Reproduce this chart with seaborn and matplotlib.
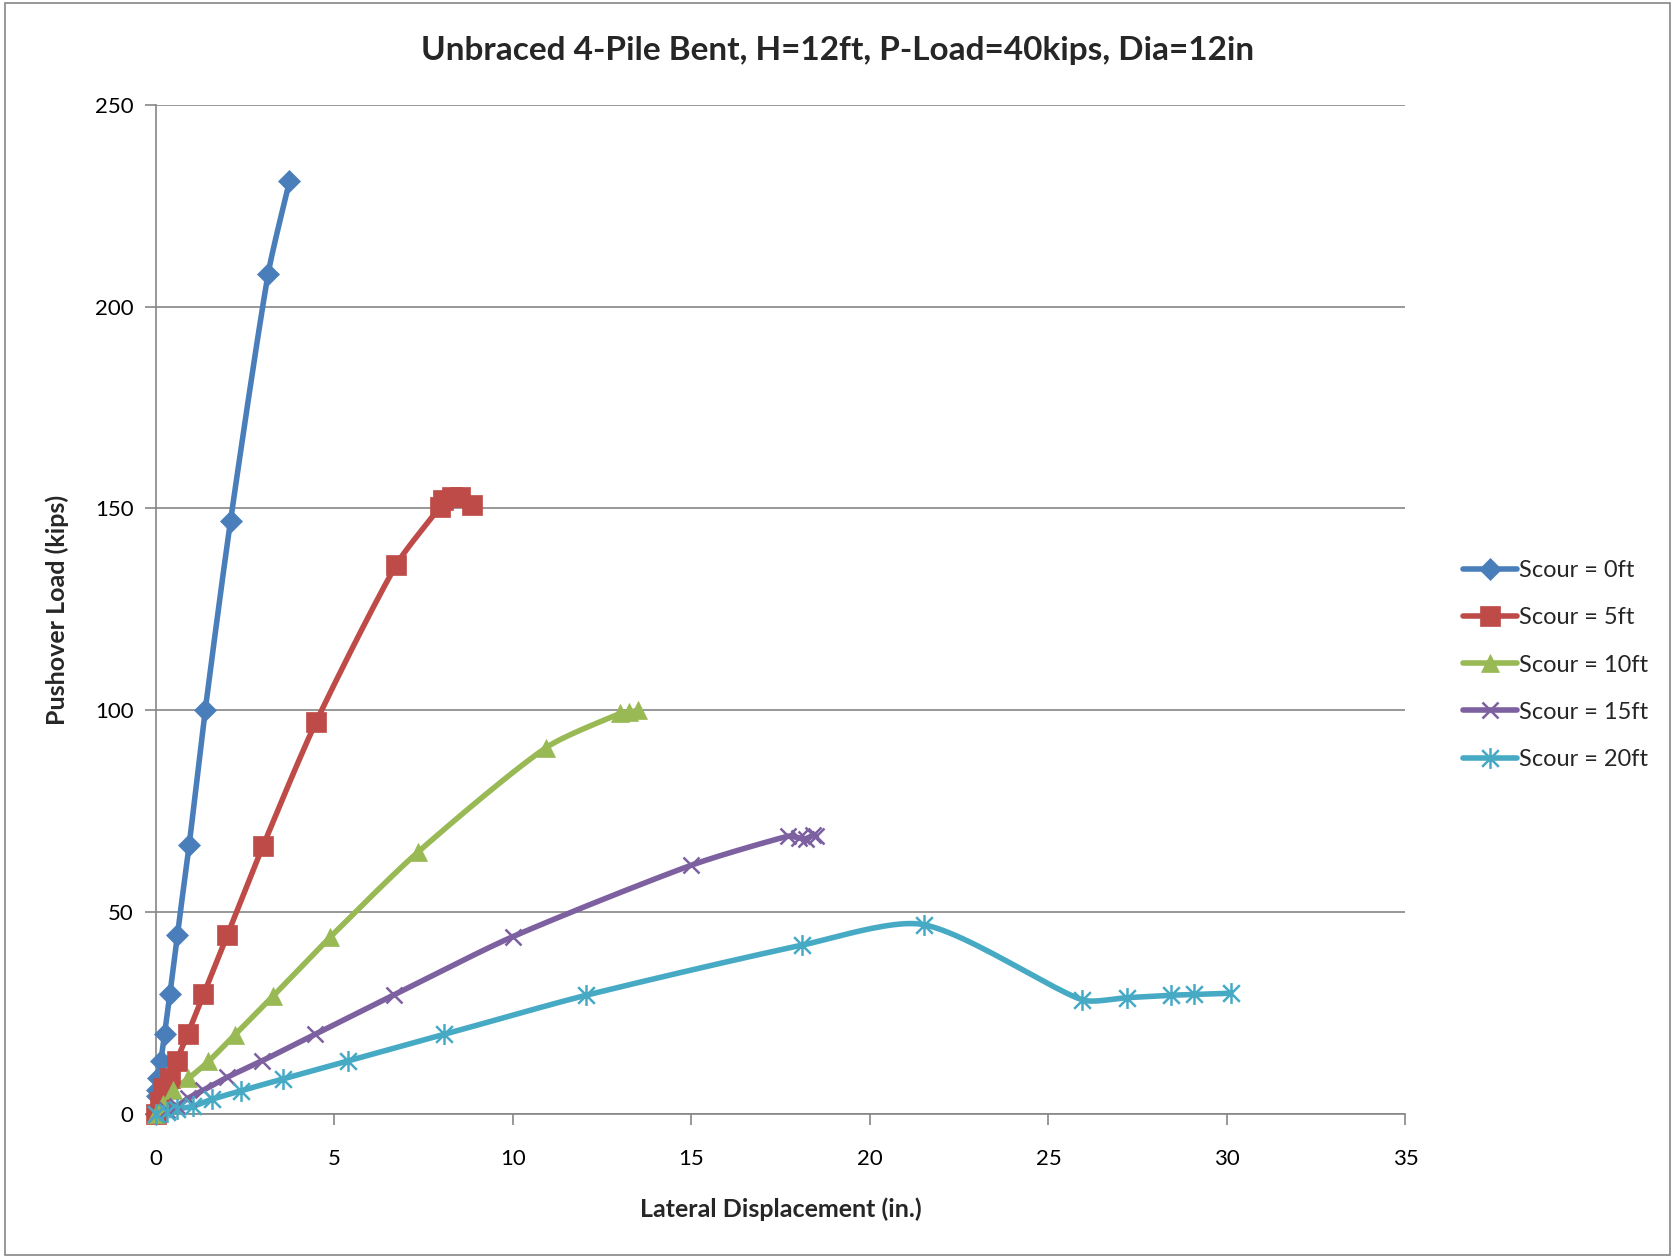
import numpy as np
import pandas as pd
import matplotlib
matplotlib.use('Agg')
import matplotlib.pyplot as plt
from matplotlib.lines import Line2D
from matplotlib.patches import Rectangle
from matplotlib.path import Path
import seaborn as sns

# data
scour_labels = ['Scour = 0ft', 'Scour = 5ft', 'Scour = 10ft', 'Scour = 15ft', 'Scour = 20ft']

disp_0 = [0, 0.02, 0.04, 0.06, 0.14, 0.24, 0.39, 0.60, 0.93, 1.38, 2.09, 3.14, 3.74]
load_0 = [0, 4.4, 6.0, 8.8, 13.2, 19.8, 29.6, 44.4, 66.6, 100, 147, 208, 231]

disp_5 = [0, 0.1, 0.2, 0.39, 0.58, 0.89, 1.33, 2.0, 3.0, 4.49, 6.73, 7.96, 8.05, 8.29, 8.52, 8.84]
load_5 = [0, 3, 6.4, 9, 13.2, 19.8, 29.6, 44.3, 66.4, 97.2, 136, 150.4, 152, 152.9, 152.9, 150.8]

disp_10 = [0, 0.2, 0.49, 0.91, 1.47, 2.21, 3.28, 4.88, 7.33, 10.92, 13.0, 13.25, 13.5]
load_10 = [0, 2.5, 5.9, 8.8, 13, 19.6, 29.2, 43.8, 64.8, 90.7, 99.2, 99.5, 100]

disp_15 = [0, 0.3, 0.6, 0.9, 1.33, 2.0, 2.96, 4.45, 6.67, 9.99, 14.99, 17.7, 18.0, 18.2, 18.4, 18.5]
load_15 = [0, 1, 2, 3.9, 5.9, 9.1, 13.1, 19.7, 29.5, 43.9, 61.6, 68.8, 68.4, 68.2, 69, 68.8]

disp_20 = [0, 0.3, 0.6, 1.04, 1.56, 2.37, 3.57, 5.37, 8.07, 12.05, 18.09, 21.5, 25.93, 27.19, 28.42, 29.08, 30.1]
load_20 = [0, 0.6, 1.2, 1.9, 3.6, 5.7, 8.7, 13.1, 19.7, 29.4, 41.8, 46.9, 28.3, 28.8, 29.4, 29.6, 29.9]

x_ticks = [0, 5, 10, 15, 20, 25, 30, 35]
y_ticks = [0, 50, 100, 150, 200, 250]

series = [(disp_0, load_0), (disp_5, load_5), (disp_10, load_10), (disp_15, load_15), (disp_20, load_20)]
colors = ['#4A7EBB', '#BE4B48', '#98B954', '#7D60A0', '#46AAC5']

# excel style asterisk: vertical bar + diagonal cross
asterisk = Path([(0, -1), (0, 1), (-0.8, -0.8), (0.8, 0.8), (-0.8, 0.8), (0.8, -0.8)],
                [Path.MOVETO, Path.LINETO, Path.MOVETO, Path.LINETO, Path.MOVETO, Path.LINETO])
markers = ['D', 's', '^', 'x', asterisk]
msizes = [11, 14, 13, 12, 15]
line_art = [False, False, False, True, True]

rows = []
for lab, (xs, ys) in zip(scour_labels, series):
    for a, b in zip(xs, ys):
        rows.append({'Scour': lab, 'disp': a, 'load': b})
df = pd.DataFrame(rows)


def smooth(xs, ys, sx, sy, n=24, a=0.25):
    # smoothed line like Excel: bezier through the points, handles kept short on short segments
    p = np.column_stack([np.array(xs) * sx, np.array(ys) * sy])
    ext = np.vstack([p[0], p, p[-1]])
    t = np.linspace(0, 1, n)[:, None]
    out = [p[:1]]
    for i in range(len(p) - 1):
        p0, p1, p2, p3 = ext[i], ext[i + 1], ext[i + 2], ext[i + 3]
        seg_len = np.linalg.norm(p2 - p1)
        d1 = p2 - p0
        d2 = p3 - p1
        n1 = np.linalg.norm(d1)
        n2 = np.linalg.norm(d2)
        c1 = p1 + (d1 / n1 * min(n1 / 6, seg_len * a) if n1 > 0 else 0)
        c2 = p2 - (d2 / n2 * min(n2 / 6, seg_len * a) if n2 > 0 else 0)
        seg = ((1 - t) ** 3) * p1 + 3 * ((1 - t) ** 2) * t * c1 + 3 * (1 - t) * t ** 2 * c2 + t ** 3 * p2
        out.append(seg[1:])
    out = np.vstack(out)
    return out[:, 0] / sx, out[:, 1] / sy


def marker_kw(i):
    if line_art[i]:
        return dict(marker=markers[i], ms=msizes[i], mfc='none', mec=colors[i], mew=1.8)
    return dict(marker=markers[i], ms=msizes[i], mfc=colors[i], mec=colors[i], mew=0.5)


sns.set_theme(style='white')
plt.rcParams['font.family'] = ['Lato', 'DejaVu Sans']

fig = plt.figure(figsize=(16.75, 12.56), dpi=100)
ax = fig.add_axes([0.0931, 0.1131, 0.746, 0.8035])

sx = 1249.5 / 35
sy = 1009.3 / 250

for i, lab in enumerate(scour_labels):
    sub = df[df['Scour'] == lab]
    cx, cy = smooth(sub['disp'].values, sub['load'].values, sx, sy)
    sns.lineplot(x=cx, y=cy, sort=False, estimator=None, color=colors[i], lw=4,
                 solid_capstyle='round', zorder=3, ax=ax)
    ax.plot(sub['disp'], sub['load'], linestyle='none', zorder=4, clip_on=False, **marker_kw(i))

ax.set_xlim(0, 35)
ax.set_ylim(0, 250)
ax.set_xticks(x_ticks)
ax.set_yticks(y_ticks)
ax.tick_params(axis='both', labelsize=16, colors='#868686', length=8, width=1.2,
               labelcolor='black', direction='out', left=True, bottom=True)
ax.tick_params(axis='x', pad=17)
ax.tick_params(axis='y', pad=8)
ax.grid(axis='y', color='#868686', lw=1.2)
ax.grid(axis='x', visible=False)
for s in ['top', 'right']:
    ax.spines[s].set_visible(False)
for s in ['left', 'bottom']:
    ax.spines[s].set_color('#868686')
    ax.spines[s].set_linewidth(1.2)

fig.text(0.5, 0.960, 'Unbraced 4-Pile Bent, H=12ft, P-Load=40kips, Dia=12in',
         fontsize=24, fontweight='bold', ha='center', va='center')
ax.set_xlabel('Lateral Displacement (in.)', fontsize=18, fontweight='bold')
ax.xaxis.set_label_coords(0.5, -0.094)
ax.xaxis.label.set_va('center')

# y label placed directly in figure coords
fig.text(0.0343, 0.5145, 'Pushover Load (kips)', fontsize=18, fontweight='bold',
         rotation=90, ha='center', va='center')

handles = []
for i, lab in enumerate(scour_labels):
    handles.append(Line2D([0], [0], color=colors[i], lw=4, solid_capstyle='round', **marker_kw(i)))
fig.legend(handles, scour_labels, loc='center left', bbox_to_anchor=(0.861, 0.4705),
           frameon=False, fontsize=17, handlelength=2.25, handletextpad=0.1,
           labelspacing=1.11)

fig.patches.append(Rectangle((0.003, 0.001), 0.994, 0.997, transform=fig.transFigure,
                             fill=False, edgecolor='#868686', lw=1.2))

fig.savefig('out.png', dpi=100)
